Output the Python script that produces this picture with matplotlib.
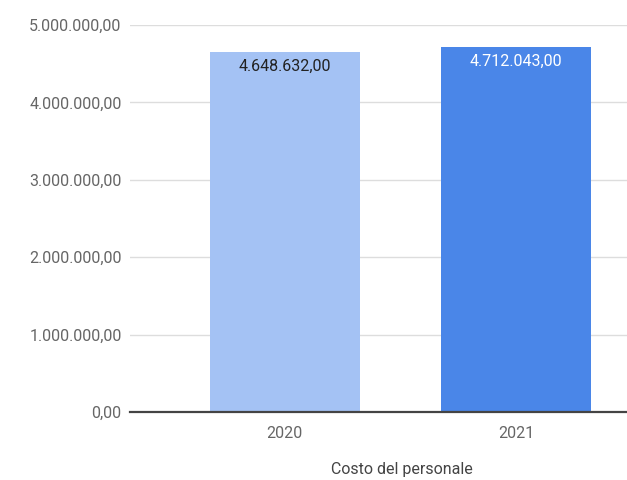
import numpy as np
import matplotlib.pyplot as plt
from matplotlib.ticker import FuncFormatter

# Costo del personale 2020 vs 2021
years = ["2020", "2021"]
values = [4648632.00, 4712043.00]
bar_colors = ["#a4c2f4", "#4a86e8"]
label_colors = ["#222222", "#ffffff"]


def it_fmt(v, pos=None):
    s = f"{v:,.2f}"
    return s.replace(",", "X").replace(".", ",").replace("X", ".")


plt.rcParams['font.family'] = ['Roboto', 'DejaVu Sans']

fig = plt.figure(figsize=(6.27, 4.8), dpi=100)
ax = fig.add_axes([0.2073, 0.1417, 0.7927, 0.8063])

x = np.arange(len(years))
ax.bar(x, values, width=0.65, color=bar_colors, zorder=2)

for xi, v, c in zip(x, values, label_colors):
    ax.text(xi, v - 85000, it_fmt(v), ha="center", va="top",
            color=c, fontsize=11.5, zorder=3)

ax.set_xlim(-0.67, 1.48)
ax.set_ylim(0, 5000000)
ax.set_yticks(np.arange(0, 5000001, 1000000))
ax.yaxis.set_major_formatter(FuncFormatter(it_fmt))
ax.set_xticks(x)
ax.set_xticklabels(years)

ax.grid(axis="y", color="#dddddd", linewidth=1, zorder=0)
for s in ["top", "right", "left"]:
    ax.spines[s].set_visible(False)
ax.spines["bottom"].set_color("#444444")
ax.spines["bottom"].set_linewidth(1.6)
ax.spines["bottom"].set_zorder(4)

ax.tick_params(axis="y", length=0, pad=6, labelsize=11.5, labelcolor="#666666")
ax.tick_params(axis="x", length=0, pad=10, labelsize=11.5, labelcolor="#666666")

fig.text(0.641, 0.021, "Costo del personale", ha="center", va="center",
         fontsize=11.5, color="#444444")

plt.savefig("out.png", dpi=100)
